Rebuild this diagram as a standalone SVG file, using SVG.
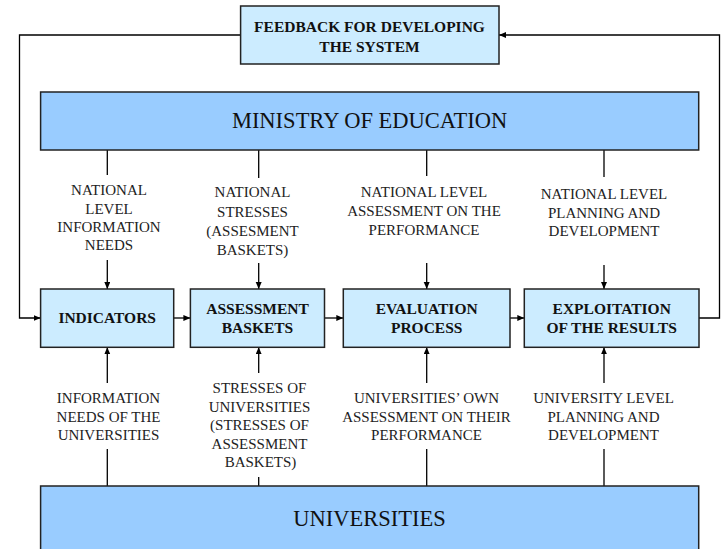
<svg xmlns="http://www.w3.org/2000/svg" width="723" height="549" viewBox="0 0 723 549">
<defs>
<marker id="arr" markerUnits="userSpaceOnUse" markerWidth="8" markerHeight="7" refX="7" refY="3" orient="auto">
<path d="M0,0 L7,3 L0,6 z" fill="#000"/>
</marker>
<style>
.big{fill:#99CCFF;stroke:#222;stroke-width:1.5}
.box{fill:#CCECFF;stroke:#222;stroke-width:1.5}
.c{fill:none;stroke:#000;stroke-width:1.3}
.a{marker-end:url(#arr)}
text{font-family:'Liberation Serif','Times New Roman',serif}
.lbl{font-size:15px;fill:#222;text-anchor:middle}
.bt{font-size:15.5px;font-weight:bold;fill:#111;text-anchor:middle}
.hd{font-size:22.5px;fill:#111;text-anchor:middle}
</style>
</defs>
<rect width="723" height="549" fill="#fff"/>

<g id="connectors">
<polyline class="c a" points="240.6,35 19.5,35 19.5,318 40.6,318"/>
<polyline class="c a" points="699,318 719.5,318 719.5,35 499,35"/>
<line class="c a" x1="173.7" y1="318" x2="190.4" y2="318"/>
<line class="c a" x1="324.5" y1="318" x2="343.3" y2="318"/>
<line class="c a" x1="510" y1="318" x2="524.3" y2="318"/>
<line class="c" x1="107.3" y1="150" x2="107.3" y2="175"/>
<line class="c a" x1="107.3" y1="260" x2="107.3" y2="289"/>
<line class="c" x1="258.7" y1="150" x2="258.7" y2="178"/>
<line class="c a" x1="258.7" y1="263" x2="258.7" y2="289"/>
<line class="c" x1="426.7" y1="150" x2="426.7" y2="176"/>
<line class="c a" x1="426.7" y1="263" x2="426.7" y2="289"/>
<line class="c" x1="604" y1="150" x2="604" y2="177"/>
<line class="c a" x1="604" y1="265" x2="604" y2="289"/>
<line class="c a" x1="107.3" y1="383" x2="107.3" y2="347.3"/>
<line class="c" x1="107.3" y1="449" x2="107.3" y2="486"/>
<line class="c a" x1="258.7" y1="373" x2="258.7" y2="347.3"/>
<line class="c" x1="258.7" y1="477" x2="258.7" y2="486"/>
<line class="c a" x1="426.7" y1="383" x2="426.7" y2="347.3"/>
<line class="c" x1="426.7" y1="449" x2="426.7" y2="486"/>
<line class="c a" x1="604" y1="383" x2="604" y2="347.3"/>
<line class="c" x1="604" y1="449" x2="604" y2="486"/>
</g>

<g id="feedback" font-family="Liberation Serif, serif">
<rect class="box" x="240.6" y="6" width="258.4" height="58"/>
<text class="bt" x="369.5" y="31.7">FEEDBACK FOR DEVELOPING</text>
<text class="bt" x="369.5" y="51.7">THE SYSTEM</text>
</g>

<g id="ministry">
<rect class="big" x="40.6" y="92" width="658.1" height="58"/>
<text class="hd" x="369.6" y="128">MINISTRY OF EDUCATION</text>
</g>

<g id="universities">
<rect class="big" x="40.6" y="486" width="658.1" height="100"/>
<text class="hd" x="369.6" y="526">UNIVERSITIES</text>
</g>

<g id="indicators">
<rect class="box" x="40.6" y="289" width="133.1" height="58.3"/>
<text class="bt" x="107.2" y="323.3">INDICATORS</text>
</g>

<g id="assessment-baskets">
<rect class="box" x="190.4" y="289" width="134.1" height="58.3"/>
<text class="bt" x="257.5" y="314.3">ASSESSMENT</text>
<text class="bt" x="257.5" y="332.5">BASKETS</text>
</g>

<g id="evaluation-process">
<rect class="box" x="343.3" y="289" width="166.7" height="58.3"/>
<text class="bt" x="426.7" y="314.3">EVALUATION</text>
<text class="bt" x="426.7" y="332.5">PROCESS</text>
</g>

<g id="exploitation">
<rect class="box" x="524.3" y="289" width="174.7" height="58.3"/>
<text class="bt" x="611.7" y="314.3">EXPLOITATION</text>
<text class="bt" x="611.7" y="332.5">OF THE RESULTS</text>
</g>

<g id="top-labels">
<text class="lbl" x="109" y="195">NATIONAL</text>
<text class="lbl" x="109" y="213.5">LEVEL</text>
<text class="lbl" x="109" y="232">INFORMATION</text>
<text class="lbl" x="109" y="250">NEEDS</text>

<text class="lbl" x="252.5" y="197">NATIONAL</text>
<text class="lbl" x="252.5" y="216.5">STRESSES</text>
<text class="lbl" x="252.5" y="236">(ASSESMENT</text>
<text class="lbl" x="252.5" y="255">BASKETS)</text>

<text class="lbl" x="424" y="197">NATIONAL LEVEL</text>
<text class="lbl" x="424" y="216">ASSESSMENT ON THE</text>
<text class="lbl" x="424" y="234.5">PERFORMANCE</text>

<text class="lbl" x="604" y="199">NATIONAL LEVEL</text>
<text class="lbl" x="604" y="217.5">PLANNING AND</text>
<text class="lbl" x="604" y="236">DEVELOPMENT</text>
</g>

<g id="bottom-labels">
<text class="lbl" x="108.5" y="402.7">INFORMATION</text>
<text class="lbl" x="108.5" y="421.7">NEEDS OF THE</text>
<text class="lbl" x="108.5" y="440">UNIVERSITIES</text>

<text class="lbl" x="259.5" y="392.7">STRESSES OF</text>
<text class="lbl" x="259.5" y="411.7">UNIVERSITIES</text>
<text class="lbl" x="259.5" y="430">(STRESSES OF</text>
<text class="lbl" x="259.5" y="449">ASSESSMENT</text>
<text class="lbl" x="260.5" y="466.7">BASKETS)</text>

<text class="lbl" x="426.5" y="402.7">UNIVERSITIES’ OWN</text>
<text class="lbl" x="426.5" y="421.7">ASSESSMENT ON THEIR</text>
<text class="lbl" x="426.5" y="440">PERFORMANCE</text>

<text class="lbl" x="603.5" y="402.7">UNIVERSITY LEVEL</text>
<text class="lbl" x="603.5" y="421.7">PLANNING AND</text>
<text class="lbl" x="603.5" y="440">DEVELOPMENT</text>
</g>
</svg>
